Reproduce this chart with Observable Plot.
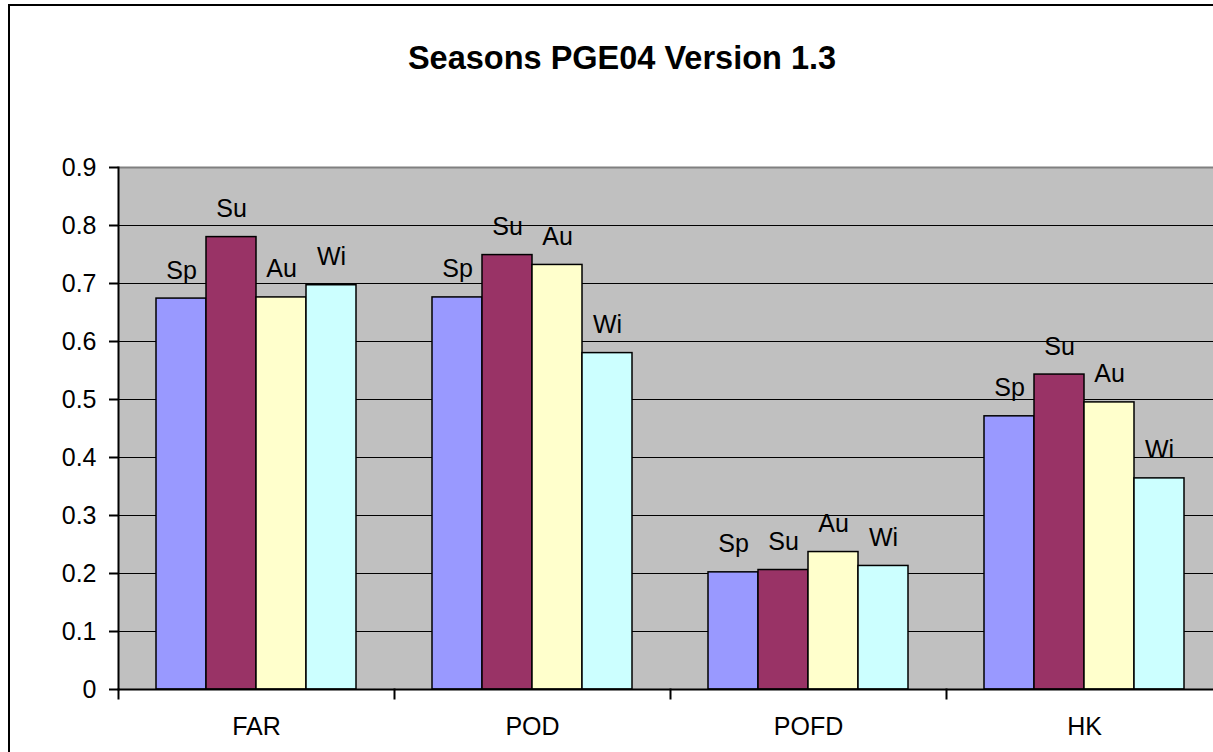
<!DOCTYPE html>
<html>
<head>
<meta charset="utf-8">
<script src="https://cdn.jsdelivr.net/npm/d3@7"></script>
<script src="https://cdn.jsdelivr.net/npm/@observablehq/plot@0.6"></script>
<style>
  html, body { margin: 0; padding: 0; background: #fff; overflow: hidden; width: 1213px; height: 752px; }
  #border { position: absolute; left: 8px; top: 4px; width: 1300px; height: 900px; border: 2px solid #000; box-sizing: border-box; }
  #chart { position: absolute; left: 0; top: 0; }
  #title { position: absolute; left: 222px; top: 42px; width: 800px; text-align: center;
           font-family: "Liberation Sans", Arial, sans-serif; font-weight: bold; font-size: 32.5px; line-height: 32.5px; color: #000; }
</style>
</head>
<body>
<div id="border"></div>
<div id="chart"></div>
<div id="title">Seasons PGE04 Version 1.3</div>
<script>
const metrics = ["FAR", "POD", "POFD", "HK"];
const seasons = ["Sp", "Su", "Au", "Wi"];
const seasonColors = ["#9999FF", "#993366", "#FFFFCC", "#CCFFFF"];
const spValues = [0.674, 0.676, 0.202, 0.471];
const suValues = [0.780, 0.749, 0.206, 0.543];
const auValues = [0.676, 0.732, 0.237, 0.495];
const wiValues = [0.697, 0.580, 0.213, 0.364];
const yTicks = [0, 0.1, 0.2, 0.3, 0.4, 0.5, 0.6, 0.7, 0.8, 0.9];
const gridLines = [0.1, 0.2, 0.3, 0.4, 0.5, 0.6, 0.7, 0.8];

const seriesValues = [spValues, suValues, auValues, wiValues];
const rows = [];
metrics.forEach((m, i) => seasons.forEach((s, j) => rows.push({metric: m, season: s, value: seriesValues[j][i]})));

const W = 1230, H = 752, mL = 118, mT = 167, mB = 63, mR = 8;
const plotH = H - mT - mB;
const font = "'Liberation Sans', Arial, sans-serif";

const chart = Plot.plot({
  width: W, height: H,
  marginLeft: mL, marginTop: mT, marginBottom: mB, marginRight: mR,
  style: {fontFamily: font, fontSize: "25px", color: "#000", background: "transparent", maxWidth: "none", overflow: "visible"},
  fx: {domain: metrics, padding: 0, label: null},
  x: {domain: seasons, paddingInner: 0, paddingOuter: 0.75, axis: null},
  y: {domain: [0, 0.9], label: null},
  color: {domain: seasons, range: seasonColors},
  marks: [
    Plot.frame({fill: "#C0C0C0", stroke: "none", insetLeft: -1, insetRight: -1, shapeRendering: "crispEdges"}),
    Plot.ruleY(gridLines, {stroke: "#000", strokeWidth: 1}),
    Plot.ruleY([0.9], {stroke: "#808080", strokeWidth: 2}),
    Plot.barY(rows, {fx: "metric", x: "season", y: "value", fill: "season", stroke: "#000", strokeWidth: 1.5}),
    Plot.text(rows, {fx: "metric", x: "season", y: "value", text: "season", lineAnchor: "bottom", dy: -20, fontSize: 25, fill: "#000"}),
    Plot.ruleY([0], {stroke: "#000", strokeWidth: 2}),
    Plot.frame({anchor: "left", facetAnchor: "left", stroke: "#000", strokeWidth: 2}),
    Plot.frame({anchor: "left", stroke: "#000", strokeWidth: 2, insetTop: plotH, insetBottom: -9}),
    Plot.axisY({ticks: yTicks, tickFormat: d => String(d), tickSize: 9, tickPadding: 13, tickWidth: 2, strokeWidth: 2, fontSize: 25, label: null}),
    Plot.axisFx({anchor: "bottom", tickSize: 0, tickPadding: 28, fontSize: 25, label: null})
  ]
});
document.getElementById("chart").appendChild(chart);
</script>
</body>
</html>
